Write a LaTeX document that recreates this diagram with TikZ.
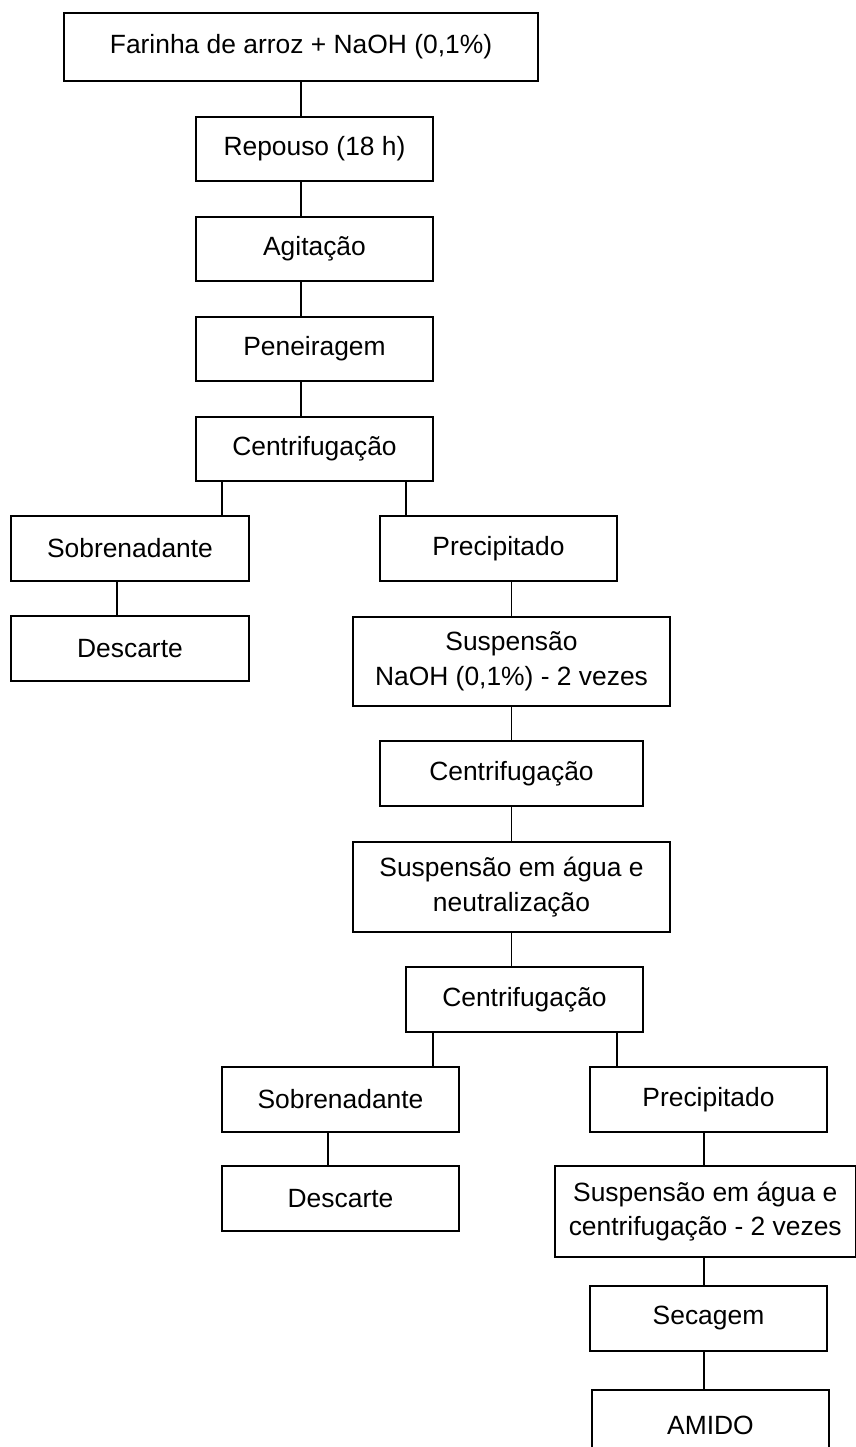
\documentclass[tikz,border=0pt]{standalone}
\usepackage{fontspec}
\setmainfont{Liberation Sans}
\begin{document}
\begin{tikzpicture}[x=0.75pt,y=-0.75pt,
  box/.style 2 args={draw=black, line width=0.8pt, inner sep=0pt, align=center,
    minimum width=#1*0.75pt, minimum height=#2*0.75pt,
    font=\fontsize{19.8pt}{26pt}\selectfont},
  link/.style={draw=black, line width=0.8pt}]
\useasboundingbox (0,0) rectangle (856,1447);
% main column
\node[box={474}{68}] (far) at (301,47) {Farinha de arroz + NaOH (0,1\%)};
\node[box={237}{64}] (rep) at (314.5,149) {Repouso (18 h)};
\node[box={237}{64}] (agi) at (314.5,249) {Agitação};
\node[box={237}{64}] (pen) at (314.5,349) {Peneiragem};
\node[box={237}{64}] (cen1) at (314.5,449) {Centrifugação};
% first split
\node[box={238}{65}] (sob1) at (130,548.5) {Sobrenadante};
\node[box={238}{65}] (des1) at (130,648.5) {Descarte};
\node[box={237}{65}] (pre1) at (498.5,548.5) {Precipitado};
\node[box={317}{89}] (susp1) at (511.5,661.5) {Suspensão\\NaOH (0,1\%) - 2 vezes};
\node[box={263}{65}] (cen2) at (511.5,773.5) {Centrifugação};
\node[box={317}{90}] (neu) at (511.5,887) {Suspensão em água e\\neutralização};
\node[box={237}{65}] (cen3) at (524.5,999.5) {Centrifugação};
% second split
\node[box={237}{65}] (sob2) at (340.5,1099.5) {Sobrenadante};
\node[box={237}{65}] (des2) at (340.5,1198.5) {Descarte};
\node[box={237}{65}] (pre2) at (708.5,1099.5) {Precipitado};
\node[box={300.5}{91}] (susp2) at (705.25,1211.5) {Suspensão em água e\\centrifugação - 2 vezes};
\node[box={237}{65}] (sec) at (708.5,1318.5) {Secagem};
\node[box={237}{70}] (ami) at (710.5,1425) {AMIDO};
% connectors
\draw[link] (far.south) -- (far.south |- rep.north);
\draw[link] (rep.south -| far.south) -- (agi.north -| far.south);
\draw[link] (agi.south -| far.south) -- (pen.north -| far.south);
\draw[link] (pen.south -| far.south) -- (cen1.north -| far.south);
\draw[link] (cen1.south -| 222,0) -- (sob1.north -| 222,0);
\draw[link] (cen1.south -| 406,0) -- (pre1.north -| 406,0);
\draw[link] (sob1.south -| 117,0) -- (des1.north -| 117,0);
\draw[link] (pre1.south -| susp1.north) -- (susp1.north);
\draw[link] (susp1.south) -- (cen2.north);
\draw[link] (cen2.south) -- (neu.north);
\draw[link] (neu.south) -- (neu.south |- cen3.north);
\draw[link] (cen3.south -| 433,0) -- (sob2.north -| 433,0);
\draw[link] (cen3.south -| 617,0) -- (pre2.north -| 617,0);
\draw[link] (sob2.south -| 328,0) -- (des2.north -| 328,0);
\draw[link] (pre2.south -| 704,0) -- (susp2.north -| 704,0);
\draw[link] (susp2.south -| 704,0) -- (sec.north -| 704,0);
\draw[link] (sec.south -| 704,0) -- (ami.north -| 704,0);
\end{tikzpicture}
\end{document}
